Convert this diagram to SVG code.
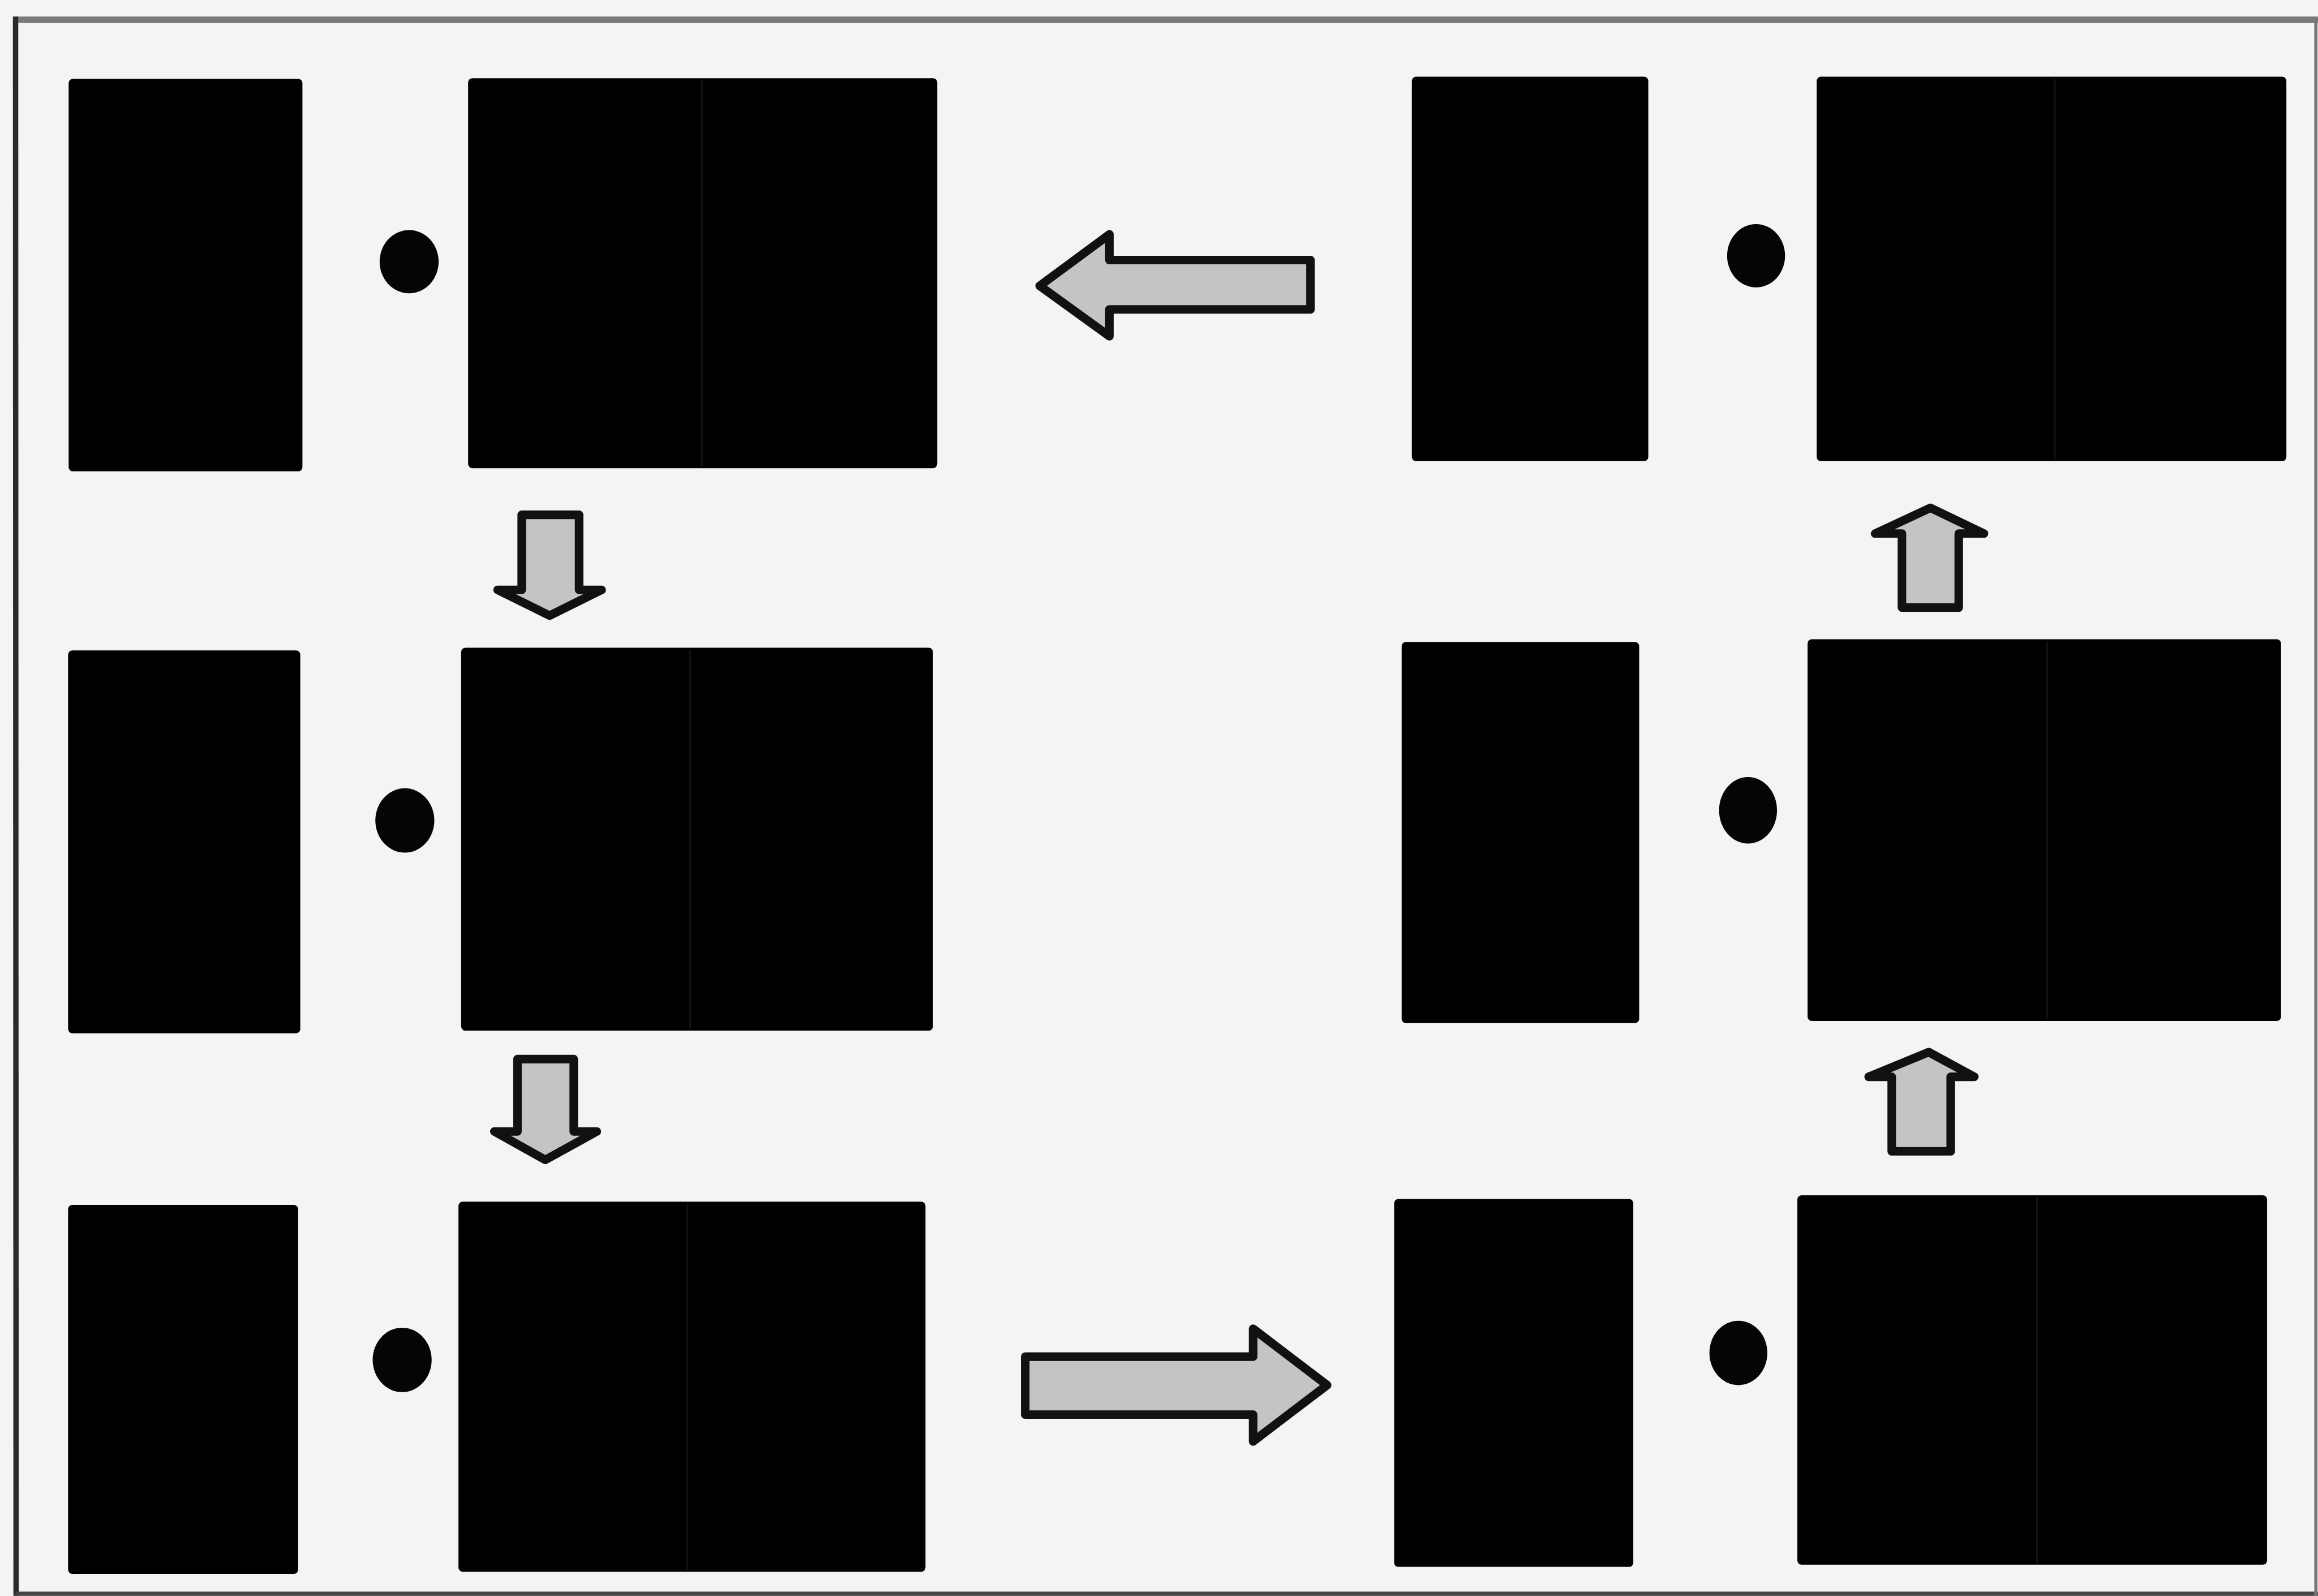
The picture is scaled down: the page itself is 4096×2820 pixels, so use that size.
<svg xmlns="http://www.w3.org/2000/svg" width="4096" height="2820" viewBox="0 0 4096 2820">
<style>
.bg{fill:#f4f4f4}
.blk{fill:#000}
.seam{stroke:#141414;stroke-width:3}
.dot{fill:#050505}
.arr{fill:#c4c4c4;stroke:#111;stroke-width:16;stroke-linejoin:round}
</style>
<rect class="bg" x="0" y="0" width="4096" height="2820"/>
<g transform="scale(0.9475)">
<g id="frame" fill="none">
<line x1="29" y1="37" x2="4323" y2="37" stroke="#7a7a7a" stroke-width="12"/>
<line x1="29" y1="31" x2="30" y2="2976" stroke="#2a2a2a" stroke-width="10"/>
<line x1="29" y1="2972" x2="4323" y2="2972" stroke="#444" stroke-width="8"/>
<line x1="4319" y1="37" x2="4319" y2="2976" stroke="#777" stroke-width="6"/>
</g>
<g id="panel-1">
<rect class="blk" x="128" y="147" width="436" height="732" rx="8"/>
<ellipse class="dot" cx="763" cy="488" rx="55" ry="59"/>
<rect class="blk" x="873" y="146" width="875" height="727" rx="8"/>
<line class="seam" x1="1309" y1="150" x2="1309" y2="869"/>
</g>
<g id="panel-2">
<rect class="blk" x="127" y="1213" width="433" height="714" rx="8"/>
<ellipse class="dot" cx="755" cy="1530" rx="55" ry="60"/>
<rect class="blk" x="860" y="1208" width="880" height="714" rx="8"/>
<line class="seam" x1="1287" y1="1212" x2="1287" y2="1918"/>
</g>
<g id="panel-3">
<rect class="blk" x="127" y="2247" width="429" height="688" rx="8"/>
<ellipse class="dot" cx="750" cy="2536" rx="55" ry="60"/>
<rect class="blk" x="855" y="2241" width="871" height="690" rx="8"/>
<line class="seam" x1="1282" y1="2245" x2="1282" y2="2927"/>
</g>
<g id="panel-4">
<rect class="blk" x="2600" y="2236" width="446" height="686" rx="8"/>
<ellipse class="dot" cx="3242" cy="2523" rx="54" ry="60"/>
<rect class="blk" x="3352" y="2229" width="876" height="689" rx="8"/>
<line class="seam" x1="3799" y1="2233" x2="3799" y2="2914"/>
</g>
<g id="panel-5">
<rect class="blk" x="2614" y="1197" width="443" height="711" rx="8"/>
<ellipse class="dot" cx="3260" cy="1511" rx="54" ry="62"/>
<rect class="blk" x="3371" y="1192" width="883" height="712" rx="8"/>
<line class="seam" x1="3818" y1="1196" x2="3818" y2="1900"/>
</g>
<g id="panel-6">
<rect class="blk" x="2633" y="143" width="441" height="717" rx="8"/>
<ellipse class="dot" cx="3275" cy="477" rx="54" ry="59"/>
<rect class="blk" x="3388" y="143" width="876" height="717" rx="8"/>
<line class="seam" x1="3832" y1="147" x2="3832" y2="856"/>
</g>
<g id="connectors">
<polygon class="arr" points="973,960 1080,960 1080,1100 1122,1100 1025,1148 928,1100 973,1100"/>
<polygon class="arr" points="965,1975 1070,1975 1070,2110 1113,2110 1017,2163 922,2110 965,2110"/>
<polygon class="arr" points="1912,2530 2337,2530 2337,2478 2475,2583 2337,2688 2337,2638 1912,2638"/>
<polygon class="arr" points="3528,2147 3638,2147 3638,2008 3682,2008 3597,1962 3485,2008 3528,2008"/>
<polygon class="arr" points="3547,1133 3653,1133 3653,995 3700,995 3600,947 3497,995 3547,995"/>
<polygon class="arr" points="1939,533 2069,437 2069,485 2444,485 2444,577 2069,577 2069,627"/>
</g>
</g>
</svg>
